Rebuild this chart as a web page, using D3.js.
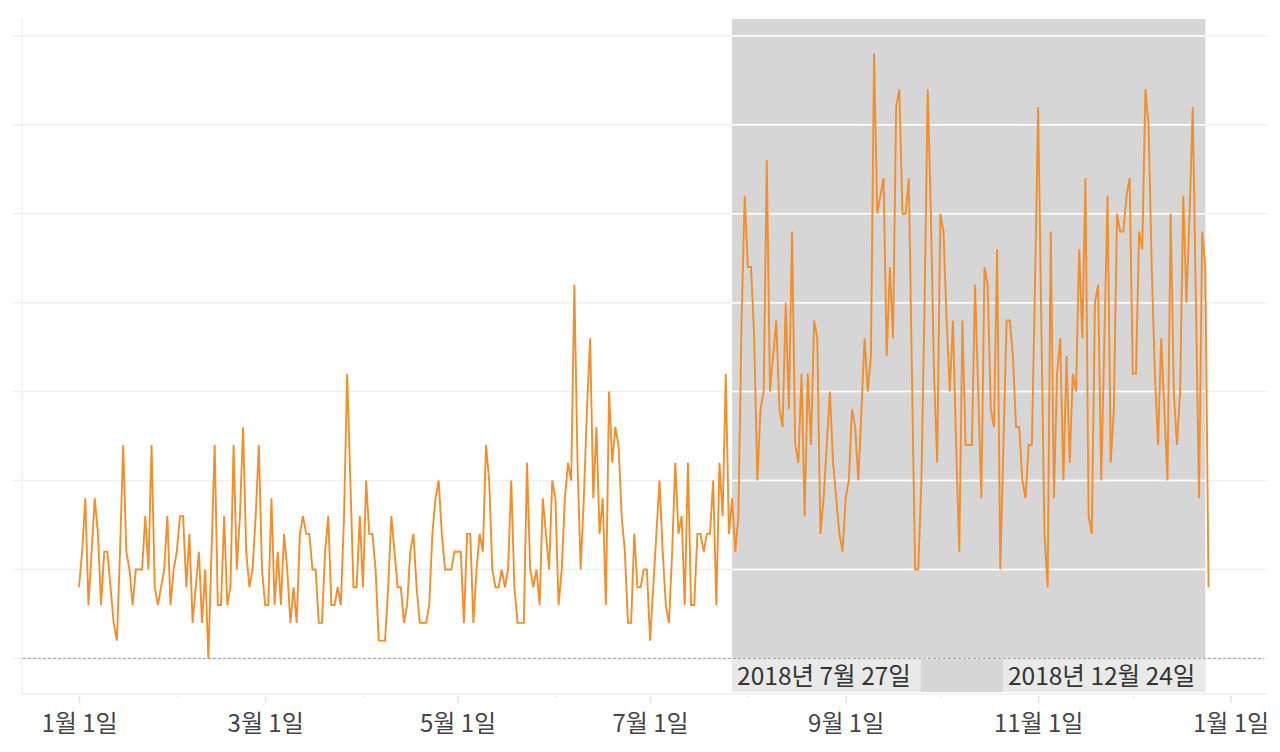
<!DOCTYPE html>
<html>
<head>
<meta charset="utf-8">
<script src="https://cdn.jsdelivr.net/npm/d3@7"></script>
<style>
    body { margin: 0; background: #fff; }
    text { font-family: "Noto Sans CJK KR", "Noto Sans", sans-serif; }
</style>
</head>
<body>
<svg id="chart"></svg>
<script>
// daily counts, 2018-01-01 .. 2018-12-25
const startDay = new Date(2018, 0, 1);
const values = [
    4, 6, 9, 3, 6, 9, 7, 3, 6, 6, 4, 2, 1, 6, 12, 6, 5, 3, 5, 5,
    5, 8, 5, 12, 4, 3, 4, 5, 8, 3, 5, 6, 8, 8, 4, 7, 2, 4, 6, 2,
    5, 0, 6, 12, 3, 3, 8, 3, 4, 12, 5, 8, 13, 6, 4, 5, 8, 12, 5, 3,
    3, 9, 3, 6, 3, 7, 5, 2, 4, 2, 7, 8, 7, 7, 5, 5, 2, 2, 6, 8,
    3, 3, 4, 3, 8, 16, 10, 4, 4, 8, 4, 10, 7, 7, 5, 1, 1, 1, 4, 8,
    6, 4, 4, 2, 3, 6, 7, 4, 2, 2, 2, 3, 7, 9, 10, 7, 5, 5, 5, 6,
    6, 6, 2, 7, 7, 2, 5, 7, 6, 12, 10, 5, 4, 4, 5, 4, 5, 10, 4, 2,
    2, 2, 11, 5, 4, 5, 3, 9, 7, 5, 10, 9, 3, 5, 9, 11, 10, 21, 11, 5,
    9, 14, 18, 9, 13, 7, 9, 3, 15, 11, 13, 12, 8, 6, 2, 2, 7, 4, 4, 5,
    5, 1, 4, 7, 10, 6, 3, 2, 6, 11, 7, 8, 3, 11, 3, 3, 7, 7, 6, 7,
    7, 10, 3, 11, 8, 16, 7, 9, 6, 8, 19, 26, 22, 22, 18, 10, 14, 15, 28, 15,
    17, 19, 14, 13, 20, 14, 24, 12, 11, 16, 8, 16, 12, 19, 18, 7, 9, 12, 15, 11,
    9, 7, 6, 9, 10, 14, 13, 10, 14, 18, 15, 17, 34, 25, 26, 27, 17, 22, 18, 31,
    32, 25, 25, 27, 16, 5, 5, 10, 20, 32, 25, 16, 11, 25, 24, 19, 15, 19, 12, 6,
    19, 12, 12, 12, 21, 15, 9, 22, 21, 14, 13, 23, 5, 12, 19, 19, 17, 13, 13, 10,
    9, 12, 12, 21, 31, 19, 7, 4, 24, 9, 16, 18, 10, 17, 11, 16, 15, 23, 18, 27,
    8, 7, 20, 21, 10, 18, 26, 11, 14, 25, 24, 24, 26, 27, 16, 16, 24, 23, 32, 30,
    22, 16, 12, 18, 14, 10, 25, 15, 12, 15, 26, 20, 25, 31, 20, 9, 24, 22, 4
];

// highlighted period
const bandStart = new Date(2018, 6, 27);
const bandEnd = new Date(2018, 11, 24);
const bandLabels = ["2018년 7월 27일", "2018년 12월 24일"];

// x axis
const tickDates = [
    new Date(2018, 0, 1), new Date(2018, 2, 1), new Date(2018, 4, 1),
    new Date(2018, 6, 1), new Date(2018, 8, 1), new Date(2018, 10, 1),
    new Date(2019, 0, 1)
];
const tickLabels = ["1월 1일", "3월 1일", "5월 1일", "7월 1일", "9월 1일", "11월 1일", "1월 1일"];
const gridValues = [0, 5, 10, 15, 20, 25, 30, 35];

const width = 1280, height = 752;
const plot = { left: 22, right: 1267, top: 18, bottom: 694 };

const data = values.map((v, i) => ({ date: d3.timeDay.offset(startDay, i), value: v }));

const svg = d3.select("#chart")
    .attr("width", width)
    .attr("height", height);

const x = d3.scaleTime()
    .domain([new Date(2018, 0, 1), new Date(2019, 0, 1)])
    .range([79, 1230.6]);

const y = d3.scaleLinear()
    .domain([-2, 36])
    .range([plot.bottom, plot.top]);

//grey band behind everything
svg.append("rect")
    .attr("x", x(bandStart))
    .attr("y", plot.top + 1)
    .attr("width", x(bandEnd) - x(bandStart))
    .attr("height", plot.bottom - plot.top - 3)
    .attr("fill", "#d6d6d6");

//horizontal gridlines, light on white and white on the band
svg.append("g")
    .selectAll("line")
    .data(gridValues)
    .enter().append("line")
    .attr("x1", 12)
    .attr("x2", plot.right)
    .attr("y1", d => y(d))
    .attr("y2", d => y(d))
    .attr("stroke", "#efefef")
    .attr("stroke-width", 1.5);

svg.append("g")
    .selectAll("line")
    .data(gridValues.filter(d => d > 0))
    .enter().append("line")
    .attr("x1", x(bandStart))
    .attr("x2", x(bandEnd))
    .attr("y1", d => y(d))
    .attr("y2", d => y(d))
    .attr("stroke", "#ffffff")
    .attr("stroke-width", 1.5);

//frame
svg.append("line")
    .attr("x1", plot.left).attr("x2", plot.left)
    .attr("y1", plot.top).attr("y2", plot.bottom)
    .attr("stroke", "#eeeeee").attr("stroke-width", 1.5);
svg.append("line")
    .attr("x1", plot.left).attr("x2", plot.right)
    .attr("y1", plot.bottom).attr("y2", plot.bottom)
    .attr("stroke", "#eeeeee").attr("stroke-width", 1.5);

//dashed zero line
svg.append("line")
    .attr("x1", plot.left + 1)
    .attr("x2", plot.right - 3)
    .attr("y1", y(0))
    .attr("y2", y(0))
    .attr("stroke", "#a0a0a0")
    .attr("stroke-width", 1)
    .attr("stroke-dasharray", "3,2");

//band labels
const labelG = svg.append("g");
bandLabels.forEach((label, i) => {
    const g = labelG.append("g");
    const rect = g.append("rect")
        .attr("fill", "#e9e9e9");
    const t = g.append("text")
        .attr("font-size", 24.5)
        .attr("fill", "#333")
        .text(label);
    const w = t.node().getComputedTextLength() + 15;
    const x0 = i === 0 ? x(bandStart) : x(bandEnd) - w;
    rect.attr("x", x0).attr("y", 659).attr("width", w).attr("height", 33);
    t.attr("x", x0 + 5).attr("y", 685);
});

//minor month ticks
svg.append("g")
    .attr("transform", "translate(0," + (plot.bottom + 2) + ")")
    .call(d3.axisBottom(x).ticks(d3.timeMonth.every(1)).tickSize(2).tickFormat(""))
    .call(g => g.select(".domain").remove())
    .call(g => g.selectAll("line").attr("stroke", "#e2e2e2"));

//major ticks with labels
svg.append("g")
    .attr("transform", "translate(0," + (plot.bottom + 2) + ")")
    .call(d3.axisBottom(x)
        .tickValues(tickDates)
        .tickSize(7)
        .tickPadding(10)
        .tickFormat((d, i) => tickLabels[i]))
    .call(g => g.select(".domain").remove())
    .call(g => g.selectAll("line").attr("stroke", "#e2e2e2").attr("stroke-width", 1.5))
    .call(g => g.selectAll("text")
        .attr("font-size", 24)
        .attr("fill", "#444")
        .attr("dy", "0.78em")
        .style("font-family", '"Noto Sans CJK KR", sans-serif'));

//the line itself
const line = d3.line()
    .x(d => x(d.date))
    .y(d => y(d.value));

svg.append("path")
    .datum(data)
    .attr("fill", "none")
    .attr("stroke", "#f28e2b")
    .attr("stroke-width", 1.9)
    .attr("stroke-linejoin", "miter")
    .attr("d", line);
</script>
</body>
</html>
